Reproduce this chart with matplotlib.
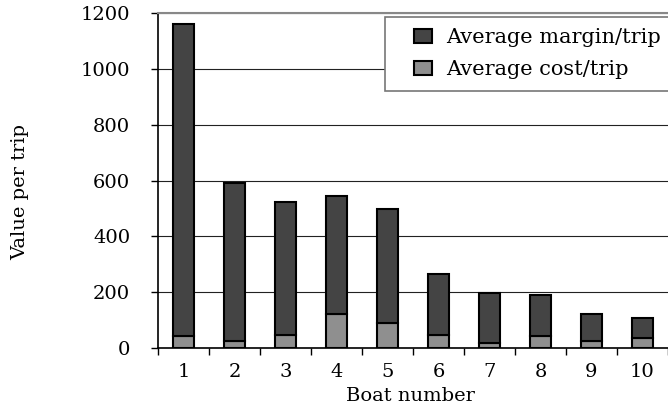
import matplotlib
matplotlib.use('Agg')
import matplotlib.pyplot as plt
import matplotlib.patches as mpatches
from matplotlib.legend_handler import HandlerPatch
import numpy as np

plt.rcParams['font.family'] = ['DejaVu Serif']

# 平均値(1回の航海あたり)
boats = ['1', '2', '3', '4', '5', '6', '7', '8', '9', '10']
avg_cost = [43, 24, 47, 121, 88, 48, 18, 43, 26, 35]
avg_margin = [1117, 568, 476, 423, 411, 217, 178, 146, 95, 74]

y_ticks = [0, 200, 400, 600, 800, 1000, 1200]

DARK = '#444444'
LIGHT = '#8f8f8f'


def _square(legend, orig_handle, xdescent, ydescent, width, height, fontsize):
    # 凡例のマーカーを右寄せの小さい四角にする
    w = height * 1.35
    return mpatches.Rectangle((width - w - xdescent, -ydescent), w, height)


fig = plt.figure(figsize=(6.68, 4.09), dpi=100)
ax = fig.add_axes([158 / 668, 1 - 348 / 409, 1 - 158 / 668, 335 / 409])

x = np.arange(len(boats))
ax.bar(x, avg_cost, width=0.42, color=LIGHT, edgecolor='black', linewidth=1.5, zorder=3)
ax.bar(x, avg_margin, width=0.42, bottom=avg_cost, color=DARK, edgecolor='black',
       linewidth=1.5, zorder=3)

ax.set_xlim(-0.5, -0.5 + 510 / 51.9)
ax.set_ylim(0, 1200)

# 目盛り線はカテゴリの境界、ラベルは中央
ax.set_xticks(x)
ax.set_xticklabels(boats, fontsize=14)
ax.set_xticks(np.arange(-0.5, len(boats) + 0.5, 1), minor=True)
ax.tick_params(axis='x', which='major', length=0, pad=11)
ax.tick_params(axis='x', which='minor', length=5, width=1, direction='out')

ax.set_yticks(y_ticks)
ax.tick_params(axis='y', labelsize=14, length=5, width=1, direction='out', pad=15)

ax.grid(axis='y', color='#222222', linewidth=0.8, zorder=0)
ax.set_axisbelow(True)

ax.spines['right'].set_visible(False)
ax.spines['top'].set_color('#888888')
ax.spines['top'].set_linewidth(1.5)
ax.spines['left'].set_linewidth(1.2)
ax.spines['bottom'].set_linewidth(1.2)

fig.text(20 / 668, 1 - 192 / 409, 'Value per trip', rotation=90, fontsize=14,
         ha='center', va='center')
fig.text(410 / 668, 1 - 396 / 409, 'Boat number', fontsize=14,
         ha='center', va='center')

proxies = [mpatches.Rectangle((0, 0), 1, 1, facecolor=DARK, edgecolor='black', linewidth=1.5),
           mpatches.Rectangle((0, 0), 1, 1, facecolor=LIGHT, edgecolor='black', linewidth=1.5)]
# 凡例枠は右端からはみ出す
leg = ax.legend(proxies, ['Average margin/trip', 'Average cost/trip'], loc='upper left',
                bbox_to_anchor=(227 / 510, (348 - 16.7) / 335, 300 / 510, 0.0),
                mode='expand', borderaxespad=0,
                fontsize=15, frameon=True, fancybox=False, edgecolor='#777777',
                framealpha=1, handlelength=1.73, handleheight=0.63,
                handletextpad=0.67, labelspacing=0.62, borderpad=0.55,
                handler_map={mpatches.Rectangle: HandlerPatch(patch_func=_square)})
leg.get_frame().set_linewidth(1.2)
leg.set_zorder(5)

fig.savefig('out.png', dpi=100)
